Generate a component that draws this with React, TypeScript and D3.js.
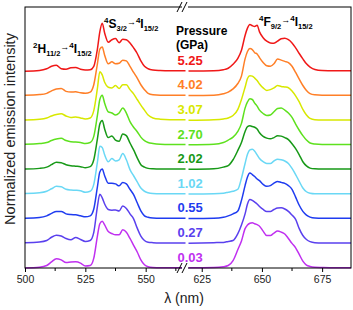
import React, { useEffect, useRef } from "react";
import * as d3 from "d3";

// wavelength grids (nm) for the two halves of the broken axis
const leftNm = [500, 506, 509, 511, 513, 515, 517, 519, 521, 523, 525, 527, 528.5, 530, 531, 532, 533, 534.5, 536, 537.5, 539, 540.5, 542, 543.5, 545, 546.5, 548, 549.5, 551, 553, 556, 560, 566.5];
const rightNm = [619.5, 630, 634, 636, 638, 640, 641.5, 643, 644, 645, 646, 647, 648, 649, 650.5, 652, 653.5, 655, 656.5, 658, 659.5, 661, 662.5, 664, 665.5, 667, 668.5, 670, 672, 675, 680, 687];

// bottom to top
const pressures = ["0.03", "0.27", "0.55", "1.02", "2.02", "2.70", "3.07", "4.02", "5.25"];
const colors = ["#c030f0", "#5a40ee", "#1f3cf0", "#6ad8f5", "#179917", "#5ee11e", "#d8e800", "#ff7f27", "#f01818"];

const left003 = [0.0, 0.03, 0.1, 0.25, 0.38, 0.33, 0.22, 0.24, 0.25, 0.2, 0.08, 0.1, 0.4, 1.3, 1.8, 1.9, 1.75, 1.48, 1.4, 1.35, 1.35, 1.55, 1.45, 1.2, 0.92, 0.65, 0.33, 0.13, 0.05, 0.02, 0.01, 0.01, 0.01];
const left027 = [0.03, 0.06, 0.12, 0.25, 0.33, 0.3, 0.2, 0.15, 0.24, 0.16, 0.08, 0.12, 0.45, 1.5, 2.0, 1.85, 1.6, 1.38, 1.35, 1.36, 1.32, 1.52, 1.42, 1.2, 1.0, 0.62, 0.3, 0.12, 0.05, 0.03, 0.02, 0.02, 0.02];
const left055 = [0.02, 0.05, 0.12, 0.22, 0.3, 0.3, 0.2, 0.17, 0.16, 0.12, 0.08, 0.12, 0.4, 1.3, 1.9, 2.02, 1.75, 1.45, 1.45, 1.42, 1.34, 1.48, 1.42, 1.2, 0.98, 0.65, 0.32, 0.12, 0.06, 0.03, 0.02, 0.02, 0.02];
const left102 = [0.03, 0.06, 0.12, 0.22, 0.32, 0.3, 0.2, 0.17, 0.16, 0.14, 0.08, 0.12, 0.4, 1.3, 1.95, 1.9, 1.6, 1.32, 1.45, 1.35, 1.4, 1.65, 1.4, 1.0, 0.75, 0.5, 0.25, 0.12, 0.06, 0.03, 0.02, 0.02, 0.02];
const left202 = [0.02, 0.05, 0.1, 0.2, 0.3, 0.28, 0.2, 0.16, 0.14, 0.12, 0.08, 0.12, 0.4, 1.25, 1.85, 2.0, 1.65, 1.3, 1.37, 1.2, 1.15, 1.45, 1.38, 1.08, 0.8, 0.48, 0.2, 0.1, 0.05, 0.03, 0.02, 0.02, 0.02];
const left270 = [0.03, 0.06, 0.1, 0.18, 0.24, 0.27, 0.18, 0.13, 0.12, 0.1, 0.06, 0.1, 0.35, 1.2, 1.85, 2.02, 1.7, 1.35, 1.3, 1.22, 1.3, 1.5, 1.3, 0.95, 0.72, 0.54, 0.32, 0.18, 0.1, 0.06, 0.03, 0.02, 0.02];
const left307 = [0.02, 0.05, 0.1, 0.18, 0.24, 0.27, 0.18, 0.12, 0.14, 0.1, 0.06, 0.1, 0.4, 1.3, 1.98, 1.85, 1.55, 1.35, 1.32, 1.42, 1.3, 1.45, 1.45, 1.25, 1.08, 0.85, 0.62, 0.42, 0.22, 0.1, 0.05, 0.03, 0.03];
const left402 = [0.02, 0.05, 0.1, 0.2, 0.28, 0.3, 0.18, 0.15, 0.16, 0.12, 0.1, 0.15, 0.45, 1.3, 1.9, 1.98, 1.65, 1.3, 1.38, 1.3, 1.32, 1.45, 1.42, 1.2, 0.95, 0.72, 0.45, 0.25, 0.1, 0.04, 0.02, 0.02, 0.02];
const left525 = [0.0, 0.03, 0.1, 0.2, 0.24, 0.1, 0.08, 0.14, 0.15, 0.08, 0.05, 0.06, 0.2, 0.9, 1.6, 1.95, 1.55, 1.18, 1.28, 1.33, 1.16, 1.3, 1.28, 1.15, 0.95, 0.72, 0.42, 0.2, 0.1, 0.05, 0.03, 0.02, 0.02];

const right003 = [0.01, 0.02, 0.05, 0.1, 0.3, 0.75, 1.1, 1.6, 1.75, 1.82, 1.84, 1.8, 1.76, 1.7, 1.5, 1.32, 1.32, 1.42, 1.5, 1.46, 1.38, 1.2, 1.0, 0.82, 0.55, 0.28, 0.12, 0.06, 0.03, 0.02, 0.01, 0.01];
const right027 = [0.01, 0.03, 0.04, 0.08, 0.12, 0.4, 0.75, 1.2, 1.6, 1.78, 1.75, 1.68, 1.6, 1.5, 1.38, 1.3, 1.3, 1.38, 1.44, 1.45, 1.4, 1.3, 1.15, 0.98, 0.6, 0.32, 0.16, 0.07, 0.03, 0.02, 0.02, 0.02];
const right055 = [0.01, 0.02, 0.06, 0.12, 0.2, 0.32, 0.75, 1.35, 1.7, 1.86, 1.8, 1.72, 1.62, 1.55, 1.4, 1.32, 1.35, 1.45, 1.52, 1.48, 1.44, 1.35, 1.2, 0.88, 0.55, 0.3, 0.15, 0.07, 0.03, 0.02, 0.02, 0.02];
const right102 = [0.01, 0.02, 0.04, 0.08, 0.12, 0.2, 0.65, 1.25, 1.62, 1.8, 1.83, 1.75, 1.6, 1.45, 1.32, 1.25, 1.25, 1.35, 1.42, 1.4, 1.35, 1.25, 1.05, 0.8, 0.52, 0.25, 0.1, 0.04, 0.02, 0.02, 0.02, 0.02];
const right202 = [0.01, 0.03, 0.1, 0.16, 0.4, 0.78, 1.1, 1.55, 1.75, 1.78, 1.75, 1.72, 1.65, 1.5, 1.35, 1.28, 1.25, 1.3, 1.38, 1.36, 1.3, 1.22, 1.05, 0.85, 0.6, 0.32, 0.15, 0.06, 0.03, 0.02, 0.02, 0.02];
const right270 = [0.01, 0.03, 0.1, 0.2, 0.32, 0.55, 0.88, 1.5, 1.75, 1.88, 1.85, 1.7, 1.58, 1.42, 1.28, 1.2, 1.22, 1.35, 1.48, 1.5, 1.42, 1.3, 1.12, 0.85, 0.6, 0.38, 0.2, 0.08, 0.04, 0.02, 0.02, 0.02];
const right307 = [0.01, 0.03, 0.06, 0.1, 0.2, 0.45, 0.85, 1.35, 1.7, 1.82, 1.8, 1.72, 1.62, 1.48, 1.32, 1.22, 1.25, 1.32, 1.42, 1.38, 1.36, 1.33, 1.2, 1.0, 0.75, 0.45, 0.22, 0.08, 0.03, 0.02, 0.02, 0.02];
const right402 = [0.01, 0.02, 0.08, 0.15, 0.28, 0.5, 0.8, 1.5, 1.8, 1.92, 1.88, 1.75, 1.7, 1.55, 1.35, 1.22, 1.2, 1.3, 1.5, 1.45, 1.4, 1.35, 1.2, 0.95, 0.68, 0.42, 0.22, 0.09, 0.04, 0.02, 0.02, 0.02];
const right525 = [0.01, 0.02, 0.06, 0.12, 0.28, 0.52, 0.85, 1.45, 1.75, 1.9, 1.85, 1.82, 1.87, 1.6, 1.36, 1.22, 1.15, 1.14, 1.22, 1.32, 1.34, 1.28, 1.15, 0.95, 0.72, 0.5, 0.3, 0.17, 0.07, 0.03, 0.02, 0.02];

const leftSpectra = [left003, left027, left055, left102, left202, left270, left307, left402, left525];
const rightSpectra = [right003, right027, right055, right102, right202, right270, right307, right402, right525];

const leftTicks = [500, 525, 550];
const rightTicks = [625, 650, 675];
const leftMinor = [512.5, 537.5, 562.5];
const rightMinor = [637.5, 662.5];

const font = "'Liberation Sans', Arial, sans-serif";

// pieces: [text, kind] where kind is "n" normal, "sup", "sub", "arr"
function transition(g: any, x: number, y: number, parts: [string, string][]) {
  const t = g.append("text").attr("x", x).attr("y", y)
    .attr("font-family", font).attr("font-weight", "bold").attr("fill", "#000");
  const level: any = { n: 0, sup: -5, sub: 3, arr: -3 };
  const size: any = { n: 12, sup: 8, sub: 7.5, arr: 9 };
  let cur = 0;
  parts.forEach(([s, k]) => {
    t.append("tspan").attr("dy", level[k] - cur).attr("font-size", size[k]).text(s);
    cur = level[k];
  });
}

export default function App() {
  const ref = useRef<SVGSVGElement>(null);

  useEffect(() => {
    const svg = d3.select(ref.current);
    svg.selectAll("*").remove();

    const W = 353, H = 310;
    const top = 7, bottom = 268, left = 25, right = 351;

    const xL = d3.scaleLinear().domain([500, 566.5]).range([left, 185.5]);
    const xR = d3.scaleLinear().domain([619.5, 687]).range([188.5, right]);
    const y = d3.scaleLinear().domain([0, 10.61]).range([bottom, top]);

    svg.append("rect").attr("width", W).attr("height", H).attr("fill", "#fff");

    const plot = svg.append("g");
    const mk = (x: any, nm: number[], off: number) =>
      d3.line<number>()
        .x((_, i) => x(nm[i]))
        .y((v) => y(v + off))
        .curve(d3.curveMonotoneX);

    leftSpectra.forEach((s, i) => {
      plot.append("path").attr("d", mk(xL, leftNm, i)(s))
        .attr("fill", "none").attr("stroke", colors[i]).attr("stroke-width", 1.5);
    });
    rightSpectra.forEach((s, i) => {
      plot.append("path").attr("d", mk(xR, rightNm, i)(s))
        .attr("fill", "none").attr("stroke", colors[i]).attr("stroke-width", 1.5);
    });

    // frame
    const fr = svg.append("g").attr("stroke", "#000").attr("stroke-width", 1).attr("fill", "none");
    fr.append("rect").attr("x", left).attr("y", top).attr("width", right - left).attr("height", bottom - top);

    // axes
    const axL = d3.axisBottom(xL).tickValues(leftTicks).tickSize(4).tickSizeOuter(0).tickPadding(4);
    const axR = d3.axisBottom(xR).tickValues(rightTicks).tickSize(4).tickSizeOuter(0).tickPadding(4);
    [axL, axR].forEach((ax) => {
      const g = svg.append("g").attr("transform", `translate(0,${bottom})`).call(ax as any);
      g.select(".domain").remove();
      g.selectAll("text").attr("font-family", font).attr("font-size", 10.5).attr("fill", "#222");
    });
    const minor = svg.append("g").attr("stroke", "#000");
    leftMinor.forEach((v) => minor.append("line").attr("x1", xL(v)).attr("x2", xL(v)).attr("y1", bottom).attr("y2", bottom + 3));
    rightMinor.forEach((v) => minor.append("line").attr("x1", xR(v)).attr("x2", xR(v)).attr("y1", bottom).attr("y2", bottom + 3));

    // axis breaks
    [top, bottom].forEach((yy) => {
      svg.append("rect").attr("x", 182).attr("y", yy - 2).attr("width", 6).attr("height", 4).attr("fill", "#fff");
      [179.5, 184.5].forEach((bx) => {
        svg.append("line").attr("x1", bx - 2.5).attr("y1", yy + 5).attr("x2", bx + 2.5).attr("y2", yy - 5)
          .attr("stroke", "#000").attr("stroke-width", 1);
      });
    });

    // axis titles
    svg.append("text").attr("x", 184).attr("y", 303).attr("text-anchor", "middle")
      .attr("font-family", font).attr("font-size", 14).attr("fill", "#222").text("λ (nm)");
    svg.append("text").attr("transform", "translate(15,129) rotate(-90)").attr("text-anchor", "middle")
      .attr("font-family", font).attr("font-size", 14.5).attr("fill", "#222").text("Normalized emission intensity");

    // transition labels
    const ann = svg.append("g");
    transition(ann, 33, 53, [["2", "sup"], ["H", "n"], ["11/2", "sub"], ["→", "arr"], ["4", "sup"], ["I", "n"], ["15/2", "sub"]]);
    transition(ann, 104, 28, [["4", "sup"], ["S", "n"], ["3/2", "sub"], ["→", "arr"], ["4", "sup"], ["I", "n"], ["15/2", "sub"]]);
    transition(ann, 259, 26, [["4", "sup"], ["F", "n"], ["9/2", "sub"], ["→", "arr"], ["4", "sup"], ["I", "n"], ["15/2", "sub"]]);

    // pressure legend
    const lg = svg.append("g").attr("font-family", font).attr("font-weight", "bold");
    lg.append("text").attr("x", 176).attr("y", 35).attr("font-size", 12).text("Pressure");
    lg.append("text").attr("x", 176).attr("y", 49).attr("font-size", 12).text("(GPa)");
    pressures.forEach((p, i) => {
      lg.append("text").attr("x", 177.5).attr("y", y(i) - 6.5).attr("font-size", 13)
        .attr("fill", colors[i]).text(p);
    });
  }, []);

  return (
    <svg ref={ref} width={353} height={310}
      style={{ position: "absolute", left: 0, top: 0, display: "block" }} />
  );
}
